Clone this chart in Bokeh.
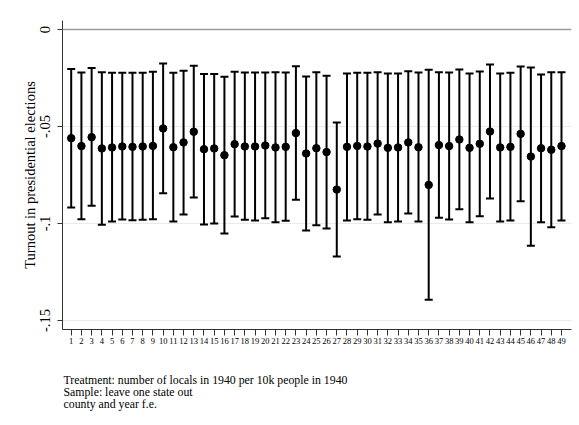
from bokeh.plotting import figure
from bokeh.models import ColumnDataSource, Whisker, TeeHead, FixedTicker, Span, Range1d, Title
from bokeh.embed import file_html
from bokeh.resources import INLINE

# Leave-one-state-out estimates (index 1..49)
states = list(range(1, 50))
coef = [-0.0560, -0.0601, -0.0555, -0.0613, -0.0608, -0.0603, -0.0605, -0.0603, -0.0600, -0.0510,
        -0.0607, -0.0582, -0.0527, -0.0617, -0.0613, -0.0648, -0.0591, -0.0603, -0.0603, -0.0598,
        -0.0608, -0.0605, -0.0534, -0.0639, -0.0612, -0.0632, -0.0825, -0.0605, -0.0600, -0.0603,
        -0.0588, -0.0610, -0.0608, -0.0582, -0.0607, -0.0801, -0.0596, -0.0601, -0.0567, -0.0610,
        -0.0589, -0.0526, -0.0608, -0.0605, -0.0538, -0.0655, -0.0612, -0.0620, -0.0601]
ci_hi = [-0.0203, -0.0222, -0.0199, -0.0220, -0.0223, -0.0223, -0.0223, -0.0223, -0.0218, -0.0175,
         -0.0223, -0.0213, -0.0187, -0.0230, -0.0230, -0.0244, -0.0218, -0.0222, -0.0222, -0.0222,
         -0.0220, -0.0222, -0.0189, -0.0242, -0.0220, -0.0239, -0.0479, -0.0227, -0.0223, -0.0223,
         -0.0220, -0.0227, -0.0227, -0.0215, -0.0222, -0.0208, -0.0220, -0.0222, -0.0206, -0.0227,
         -0.0216, -0.0180, -0.0227, -0.0223, -0.0191, -0.0196, -0.0232, -0.0220, -0.0220]
ci_lo = [-0.0918, -0.0978, -0.0909, -0.1007, -0.0990, -0.0979, -0.0983, -0.0981, -0.0978, -0.0844,
         -0.0990, -0.0954, -0.0866, -0.1005, -0.1000, -0.1052, -0.0964, -0.0981, -0.0985, -0.0973,
         -0.0993, -0.0986, -0.0878, -0.1036, -0.1009, -0.1026, -0.1170, -0.0985, -0.0978, -0.0981,
         -0.0954, -0.0993, -0.0990, -0.0948, -0.0990, -0.1393, -0.0971, -0.0979, -0.0926, -0.0993,
         -0.0962, -0.0871, -0.0990, -0.0985, -0.0885, -0.1115, -0.0993, -0.1019, -0.0985]

y_ticks = [0, -0.05, -0.1, -0.15]
y_tick_labels = ["0", "-.05", "-.1", "-.15"]
y_title = "Turnout in presidential elections"
notes = ["Treatment: number of locals in 1940 per 10k people in 1940",
         "Sample: leave one state out",
         "county and year f.e."]

FONT = "Liberation Serif"

src = ColumnDataSource(dict(x=states, y=coef, hi=ci_hi, lo=ci_lo))

p = figure(width=579, height=425, output_backend="svg", toolbar_location=None,
           x_range=Range1d(0.148, 49.98), y_range=Range1d(-0.15464, 0.00464),
           min_border_left=62, min_border_right=8, min_border_top=20, min_border_bottom=96)
p.outline_line_color = None
p.background_fill_color = "white"
p.border_fill_color = "white"

# zero reference line
p.add_layout(Span(location=0, dimension="width", line_color="#9a9a9a", line_width=1.4))

w = Whisker(source=src, base="x", upper="hi", lower="lo", line_color="black", line_width=2,
            upper_head=TeeHead(size=8, line_color="black", line_width=2),
            lower_head=TeeHead(size=8, line_color="black", line_width=2))
p.add_layout(w)
p.scatter("x", "y", source=src, size=7.5, color="black")

# axes
p.xaxis.ticker = FixedTicker(ticks=states)
p.xaxis.major_label_text_font = FONT
p.xaxis.major_label_text_font_size = "8.5px"
p.xaxis.major_label_text_color = "black"
p.xaxis.major_tick_out = 6
p.xaxis.major_tick_in = 0
p.xaxis.minor_tick_line_color = None
p.xaxis.major_label_standoff = 2
p.xaxis.axis_line_color = "#333333"
p.xaxis.major_tick_line_color = "#333333"
# blank axis label used only as a spacer between tick labels and notes
p.xaxis.axis_label = " "
p.xaxis.axis_label_text_font_size = "1px"
p.xaxis.axis_label_standoff = 22

p.yaxis.ticker = FixedTicker(ticks=y_ticks)
p.yaxis.major_label_overrides = {t: l for t, l in zip(y_ticks, y_tick_labels)}
p.yaxis.major_label_orientation = "vertical"
p.yaxis.major_label_text_font = FONT
p.yaxis.major_label_text_font_size = "14.5px"
p.yaxis.major_label_text_color = "black"
p.yaxis.major_tick_out = 5
p.yaxis.major_tick_in = 0
p.yaxis.minor_tick_line_color = None
p.yaxis.major_label_standoff = 7
p.yaxis.axis_label = y_title
p.yaxis.axis_label_text_font = FONT
p.yaxis.axis_label_text_font_style = "normal"
p.yaxis.axis_label_text_font_size = "14.5px"
p.yaxis.axis_label_text_color = "black"
p.yaxis.axis_label_standoff = 0
p.yaxis.axis_line_color = "#333333"
p.yaxis.major_tick_line_color = "#333333"

p.xgrid.grid_line_color = None
p.ygrid.grid_line_color = "#e3ecee"
p.ygrid.grid_line_width = 1

# notes below the plot
for txt in notes:
    t = Title(text=txt, align="left", offset=1, text_font=FONT, text_font_size="11.8px",
              text_font_style="normal", text_color="black", text_line_height=1.0,
              standoff=-4)
    p.add_layout(t, "below")

open("out.html", "w").write(file_html(p, INLINE))
